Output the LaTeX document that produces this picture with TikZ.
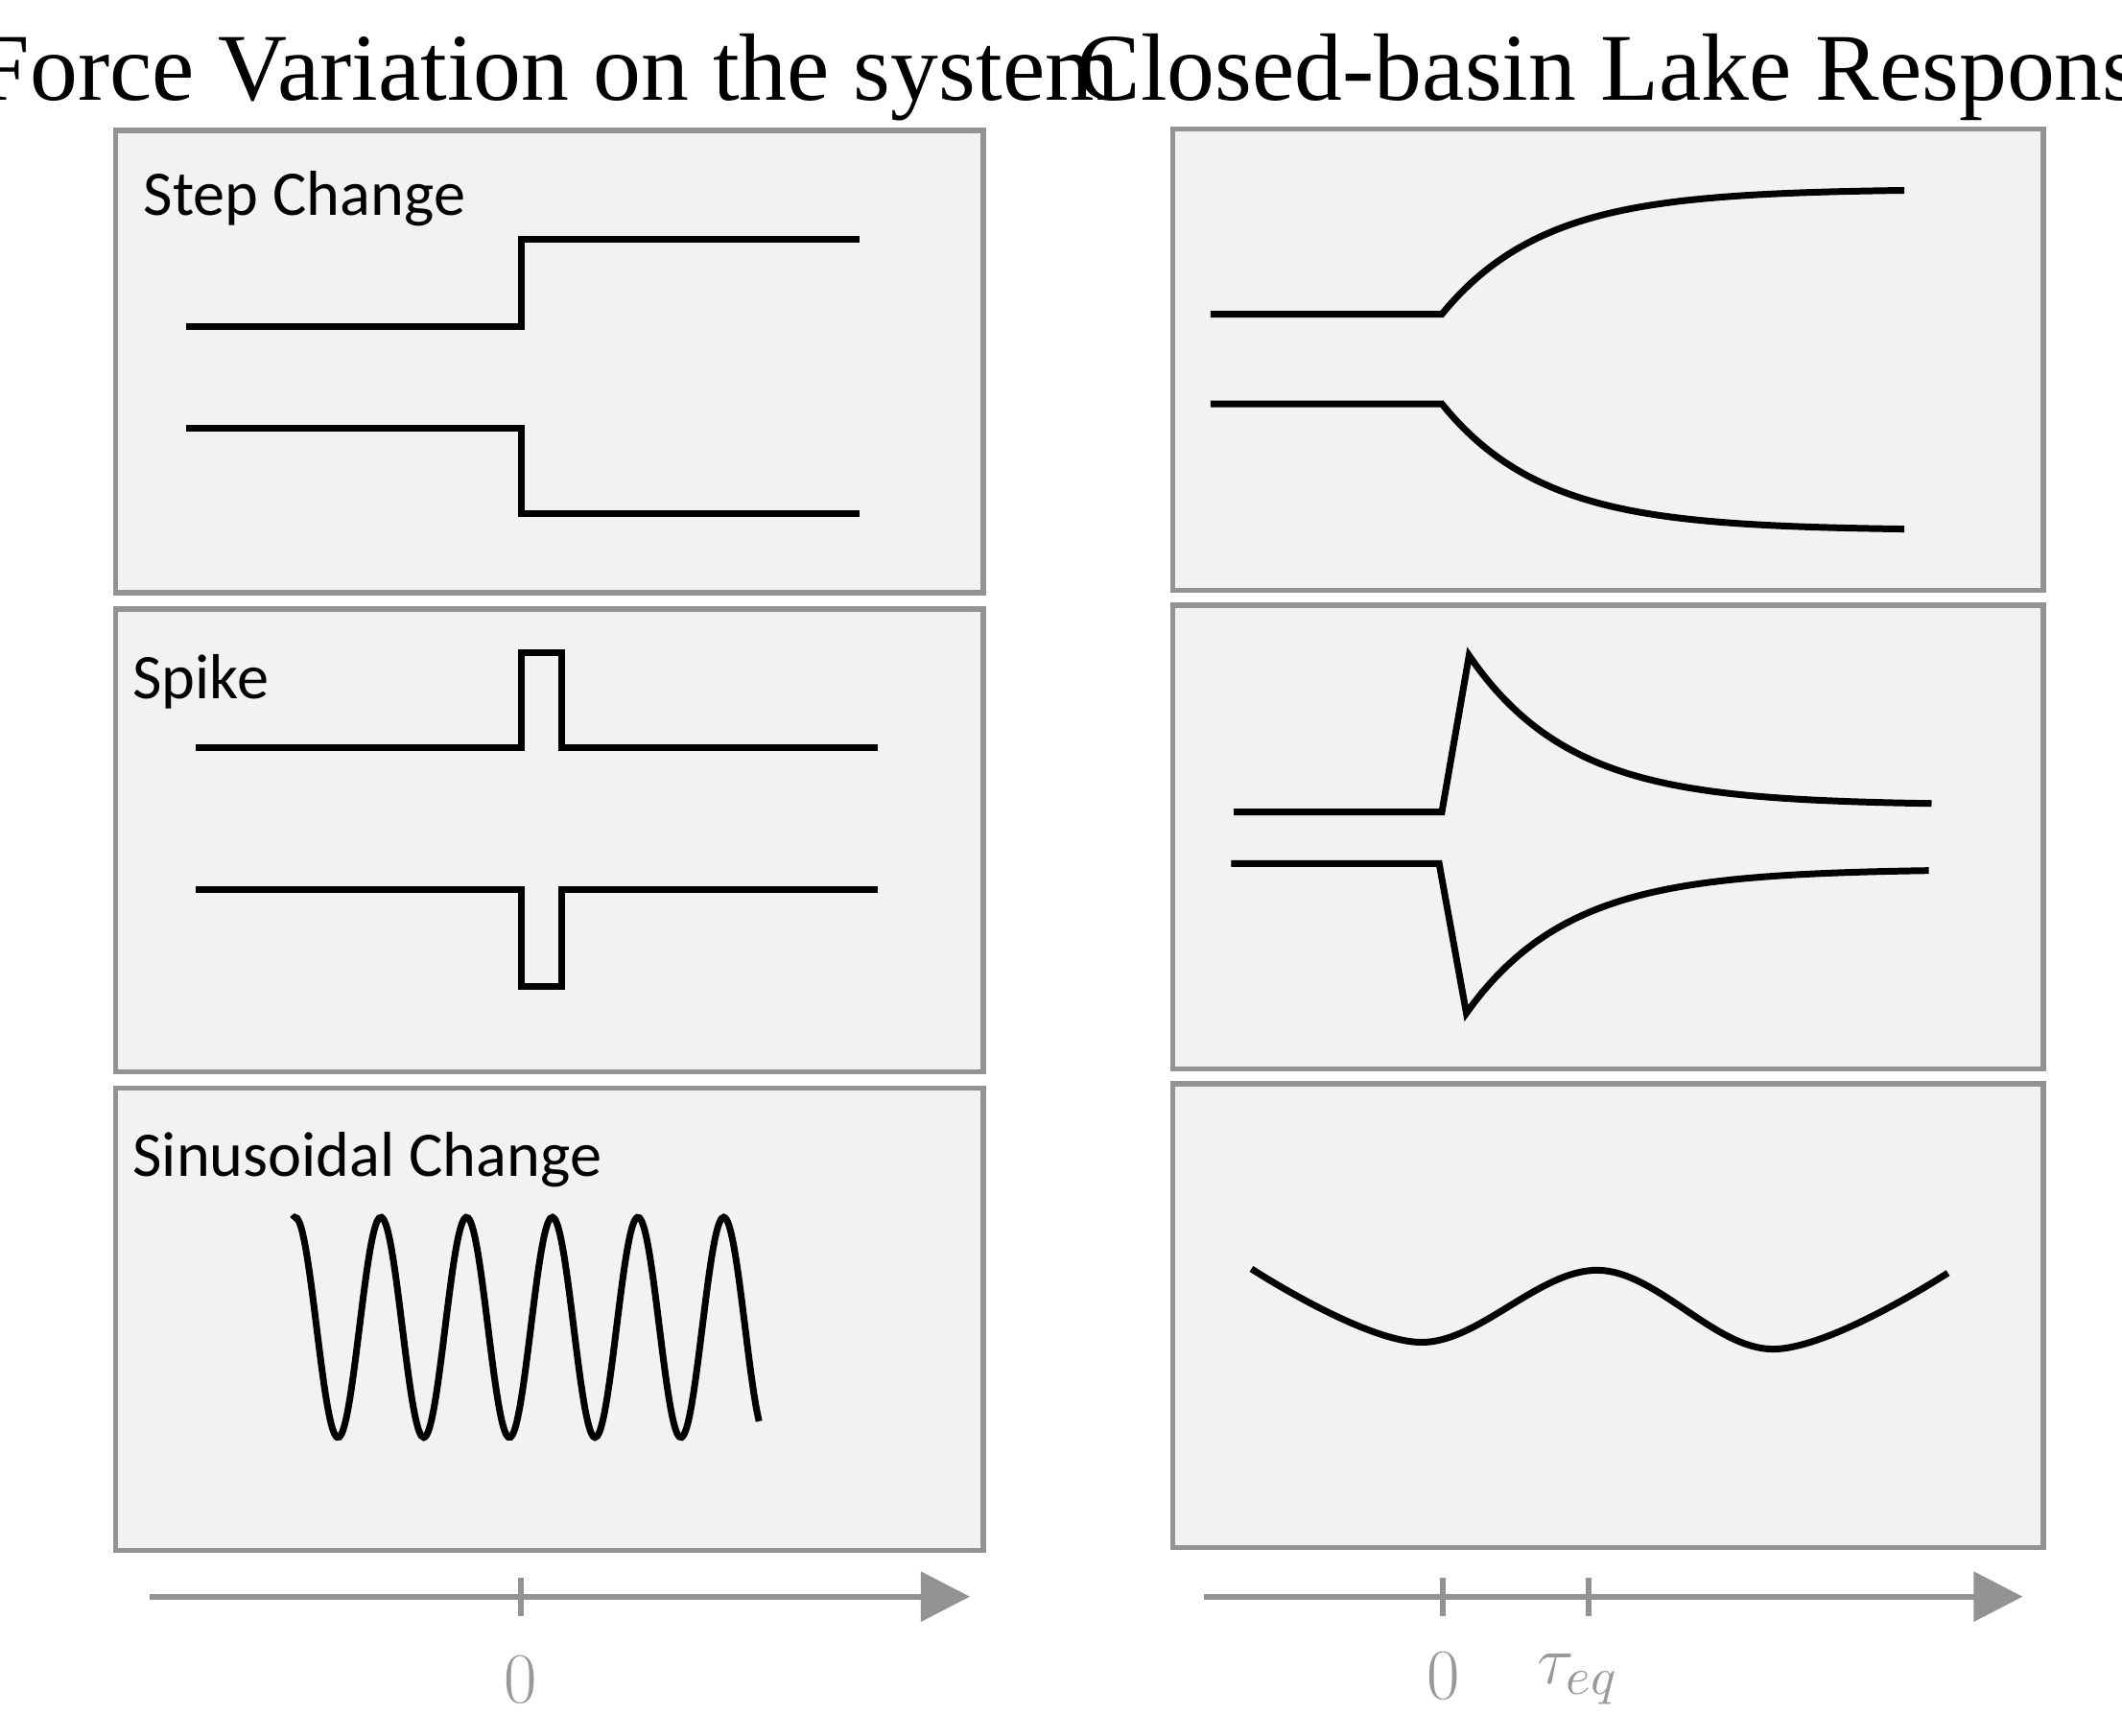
\documentclass[tikz,border=0pt]{standalone}
\usepackage{fontspec}
\newfontfamily\lblfont{Carlito}
\newfontfamily\ttlfont{Liberation Serif}
\usetikzlibrary{arrows.meta}
\tikzset{
  panel/.style={draw=gray!85, fill=gray!10, line width=1.1pt},
  curve/.style={line width=1.4pt, line join=miter},
  axis/.style={draw=gray!85, line width=1.2pt},
  lbl/.style={anchor=west, inner sep=0pt, font=\lblfont\fontsize{13.3}{16}\selectfont},
  ttl/.style={inner sep=0pt, font=\ttlfont\fontsize{20}{24}\selectfont},
  tck/.style={inner sep=0pt, text=gray!80, font=\fontsize{15}{18}\selectfont}
}
\begin{document}
\begin{tikzpicture}[x=0.01cm, y=-0.01cm]
\useasboundingbox (0,0) rectangle (1560,1276);

% titles
\node[ttl] (t1) at (403,57) {Force Variation on the system};
\node[ttl] (t2) at (1198,57) {Closed-basin Lake Response};

% panels
\draw[panel] (85,96) rectangle (723,436);
\draw[panel] (85,448) rectangle (723,788);
\draw[panel] (85,800) rectangle (723,1140);
\draw[panel] (862,95) rectangle (1502,434);
\draw[panel] (862,445) rectangle (1502,786);
\draw[panel] (862,797) rectangle (1502,1138);

\node[lbl] (l1) at (105,146) {Step Change};
\node[lbl] (l2) at (97,501) {Spike};
\node[lbl] (l3) at (97,853) {Sinusoidal Change};

% forcing
\draw[curve] (137,240) -- (383,240) -- (383,176) -- (632,176);
\draw[curve] (137,315) -- (383,315) -- (383,378) -- (632,378);
\draw[curve] (144,550) -- (383,550) -- (383,480) -- (413,480) -- (413,550) -- (645,550);
\draw[curve] (144,654) -- (383,654) -- (383,725) -- (413,725) -- (413,654) -- (645,654);
\draw[curve, smooth, samples=200, domain=215:558]
  plot (\x, {976-81*cos(5.714*(\x-280))});

% response
\draw[curve] (890,231) -- (1060,231)
  -- plot[smooth, samples=60, domain=1060:1400] (\x, {139+92*exp(-(\x-1060)/75)});
\draw[curve] (890,297) -- (1060,297)
  -- plot[smooth, samples=60, domain=1060:1400] (\x, {390-93*exp(-(\x-1060)/75)});
\draw[curve] (907,597) -- (1060,597) -- (1080,482)
  -- plot[smooth, samples=60, domain=1080:1420] (\x, {592-110*exp(-(\x-1080)/75)});
\draw[curve] (905,635) -- (1058,635) -- (1078,745)
  -- plot[smooth, samples=60, domain=1078:1418] (\x, {639+106*exp(-(\x-1078)/75)});
\draw[curve] plot[smooth, tension=0.6] coordinates
  {(920,933) (1045,987) (1175,934) (1303,992) (1432,936)};

% time axes
\coordinate (a1) at (110,1174); \coordinate (b1) at (713,1174);
\coordinate (a2) at (885,1174); \coordinate (b2) at (1487,1174);
\draw[axis, -{Triangle[length=0.36cm, width=0.36cm]}] (a1) -- (b1);
\draw[axis, -{Triangle[length=0.36cm, width=0.36cm]}] (a2) -- (b2);
\draw[axis] (383,1160) -- (383,1188);
\draw[axis] (1061,1160) -- (1061,1188);
\draw[axis] (1168,1160) -- (1168,1188);
\node[tck] (z1) at (383,1235) {0};
\node[tck] (z2) at (1061,1232) {0};
\node[tck] (tq) at (1160,1235) {$\tau_{eq}$};
\end{tikzpicture}
\end{document}
